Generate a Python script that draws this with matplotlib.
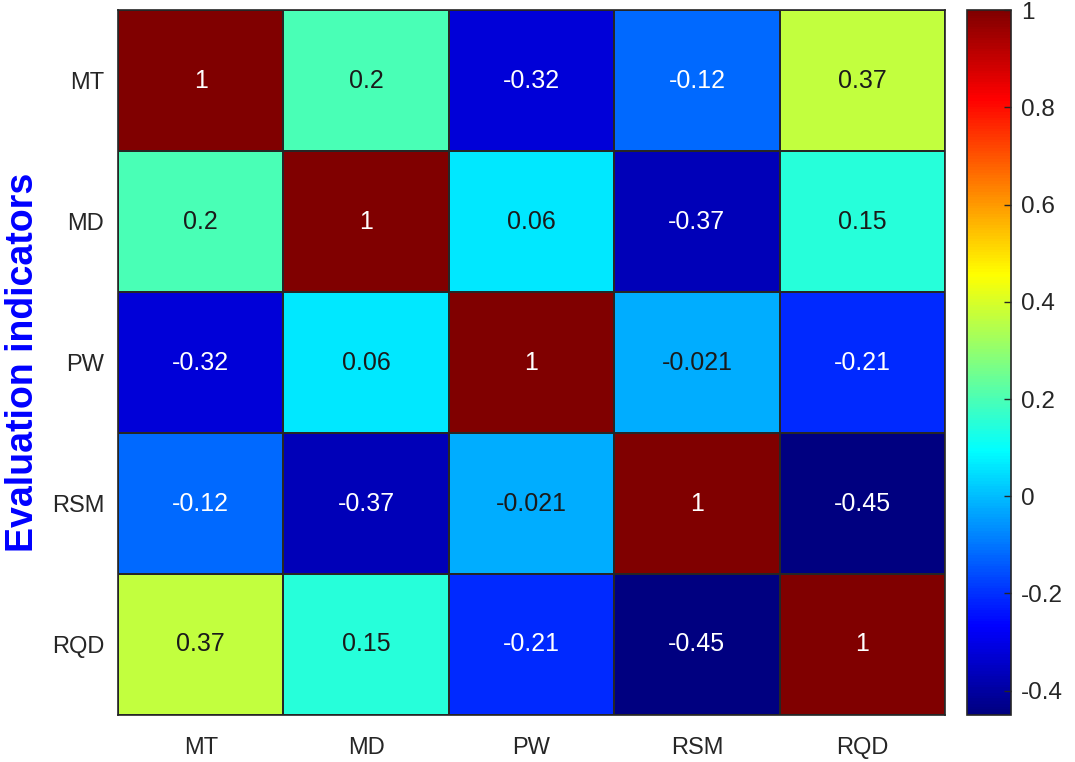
import numpy as np
import matplotlib
matplotlib.use('Agg')
import matplotlib.pyplot as plt
from matplotlib import colors

plt.rcParams['font.family'] = ['Liberation Sans', 'DejaVu Sans']

labels = ['MT', 'MD', 'PW', 'RSM', 'RQD']
corr = np.array([
    [1, 0.2, -0.32, -0.12, 0.37],
    [0.2, 1, 0.06, -0.37, 0.15],
    [-0.32, 0.06, 1, -0.021, -0.21],
    [-0.12, -0.37, -0.021, 1, -0.45],
    [0.37, 0.15, -0.21, -0.45, 1],
])
cbar_ticks = [-0.4, -0.2, 0, 0.2, 0.4, 0.6, 0.8, 1]

# matlab style jet
jet_segs = {
    'red': [(0, 0, 0), (0.375, 0, 0), (0.625, 1, 1), (0.875, 1, 1), (1, 0.5, 0.5)],
    'green': [(0, 0, 0), (0.125, 0, 0), (0.375, 1, 1), (0.625, 1, 1), (0.875, 0, 0), (1, 0, 0)],
    'blue': [(0, 0.5, 0.5), (0.125, 1, 1), (0.375, 1, 1), (0.625, 0, 0), (1, 0, 0)],
}
cmap = colors.LinearSegmentedColormap('mjet', jet_segs, N=256)

fig = plt.figure(figsize=(10.75, 7.62), dpi=100)
ax = fig.add_axes([0.1098, 0.0617, 0.7693, 0.925])
cax = fig.add_axes([0.8995, 0.0617, 0.041, 0.925])

norm = colors.Normalize(vmin=corr.min(), vmax=corr.max())
mesh = ax.pcolormesh(corr, cmap=cmap, norm=norm, edgecolors='#262626', linewidth=1.2)
ax.set_xlim(0, len(labels))
ax.set_ylim(len(labels), 0)

for i in range(len(labels)):
    for j in range(len(labels)):
        v = corr[i, j]
        r, g, b, _ = cmap(norm(v))
        lum = 0.299 * r + 0.587 * g + 0.114 * b
        tc = 'white' if lum < 0.5 else '#1a1a1a'
        ax.text(j + 0.5, i + 0.5, f'{v:g}', ha='center', va='center', fontsize=18, color=tc)

ax.set_xticks(np.arange(len(labels)) + 0.5)
ax.set_yticks(np.arange(len(labels)) + 0.5)
ax.set_xticklabels(labels, fontsize=17, color='#262626')
ax.set_yticklabels(labels, fontsize=17, color='#262626')
ax.tick_params(axis='x', length=0, pad=16)
ax.tick_params(axis='y', length=0, pad=10)
for s in ax.spines.values():
    s.set_color('#262626')
    s.set_linewidth(1.2)
ax.set_ylabel('Evaluation indicators', fontsize=27, fontweight='bold', color='#0000ff', labelpad=8)

cb = fig.colorbar(mesh, cax=cax, ticks=cbar_ticks)
cb.ax.set_yticklabels([f'{t:g}' for t in cbar_ticks], fontsize=17.5, color='#262626')
cb.ax.tick_params(direction='in', length=5, width=1, color='#262626', pad=7)
cb.outline.set_edgecolor('#262626')
cb.outline.set_linewidth(1.2)

fig.savefig('out.png', dpi=100)
